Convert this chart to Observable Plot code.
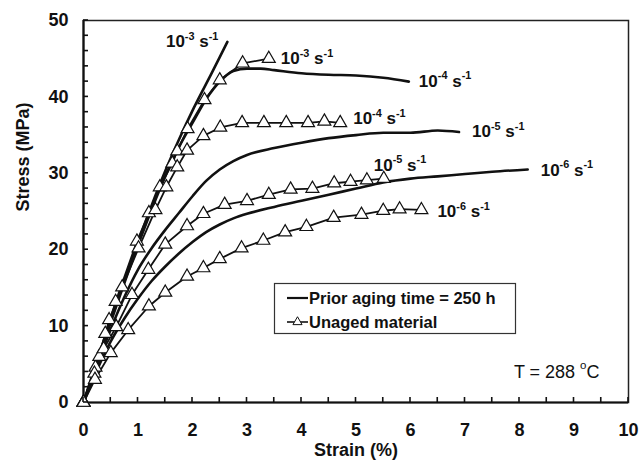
<!DOCTYPE html>
<html><head><meta charset="utf-8">
<script src="https://cdn.jsdelivr.net/npm/d3@7"></script>
<script src="https://cdn.jsdelivr.net/npm/@observablehq/plot@0.6"></script>
<style>
body{margin:0;background:#fff;}
#chart svg{font-family:"Liberation Sans",Arial,sans-serif;}
</style></head><body><div id="chart"></div>
<script>
// ---- data (strain %, stress MPa) ----
const agedE3 = [[0,0],[0.25,5.5],[0.5,10.8],[0.75,16],[1,21],[1.25,25.8],[1.5,30.3],[1.75,34.4],[2,38.2],[2.25,41.7],[2.5,45.2],[2.64,47.2]];
const agedE4 = [[0,0],[0.5,10.5],[1.0,20.6],[1.5,29.6],[1.75,33.4],[2.0,36.6],[2.25,39.7],[2.5,42.0],[2.75,43.4],[3.0,43.7],[3.25,43.7],[3.5,43.5],[4.0,43.1],[4.5,42.9],[5.0,42.8],[5.5,42.5],[5.97,42.0]];
const agedE5 = [[0,0],[0.25,5],[0.5,9.6],[0.75,13.8],[1.0,17.4],[1.25,20.2],[1.5,22.6],[1.75,24.8],[2.0,27.0],[2.25,29.0],[2.5,30.5],[2.75,31.6],[3.0,32.4],[3.5,33.3],[4.0,34.0],[4.5,34.6],[5.0,35.0],[5.5,35.3],[6.0,35.3],[6.5,35.6],[6.89,35.4]];
const agedE6 = [[0,0],[0.25,4.3],[0.5,8.0],[0.75,11.0],[1.0,13.6],[1.25,15.9],[1.5,17.8],[1.75,19.5],[2.0,21.0],[2.25,22.3],[2.5,23.3],[2.75,24.1],[3.0,24.7],[3.5,25.6],[4.0,26.4],[4.5,27.2],[5.0,28.0],[5.5,28.8],[6.0,29.3],[6.5,29.6],[7.0,29.9],[7.5,30.2],[8.15,30.5]];
const unagedE3 = [[0,0],[0.22,4.6],[0.4,9.0],[0.59,13.2],[0.98,21.1],[1.2,24.8],[1.4,28.2],[1.63,31.3],[1.72,32.9],[1.91,35.8],[2.22,39.6],[2.5,42.2],[2.92,44.4],[3.4,45.0]];
const unagedE4 = [[0,0],[0.29,6.0],[0.47,10.8],[0.71,15.1],[1.01,20.2],[1.32,25.2],[1.52,28.2],[1.72,30.8],[1.9,33.0],[2.2,34.9],[2.51,36.0],[2.91,36.6],[3.31,36.6],[3.72,36.6],[4.12,36.6],[4.42,36.8],[4.71,36.6]];
const unagedE5 = [[0,0],[0.2,3.8],[0.37,7.0],[0.6,9.9],[0.89,14.1],[1.19,17.4],[1.5,20.7],[1.9,23.1],[2.2,24.7],[2.59,25.9],[3.0,26.4],[3.4,27.2],[3.8,27.9],[4.2,28.0],[4.6,28.7],[4.9,28.9],[5.2,29.1],[5.51,29.3]];
const unagedE6 = [[0,0],[0.21,3.0],[0.5,6.5],[0.82,9.5],[1.2,12.6],[1.5,14.4],[1.9,16.5],[2.2,17.6],[2.5,18.8],[2.9,20.2],[3.3,21.2],[3.7,22.3],[4.09,23.0],[4.59,24.2],[5.1,24.6],[5.5,25.1],[5.8,25.3],[6.2,25.2]];
const rateLabels = ["10^{-3} s^{-1}","10^{-4} s^{-1}","10^{-5} s^{-1}","10^{-6} s^{-1}"];
const xLabelTicks = [0,1,2,3,4,5,6,7,8,9,10];
const yLabelTicks = [0,10,20,30,40,50];
const xMinorTicks = d3.range(0, 10.001, 0.5);
const yMinorTicks = d3.range(0, 50.001, 2);
const legendLabels = ["Prior aging time = 250 h", "Unaged material"];

// ---- build tables ----
const toRows = (arr, rate) => arr.map(([x, y]) => ({x, y, rate}));
const aged = [agedE3, agedE4, agedE5, agedE6];
const unaged = [unagedE3, unagedE4, unagedE5, unagedE6];
const agedRows = aged.flatMap((a, i) => toRows(a, rateLabels[i]));
const unagedRows = unaged.flatMap((a, i) => toRows(a, rateLabels[i]));

// label offsets (styling) relative to the end of each curve
const agedOff = [{dx:-9,dy:0,anchor:"end"},{dx:10,dy:0,anchor:"start"},{dx:13,dy:0,anchor:"start"},{dx:13,dy:1,anchor:"start"}];
const unagedOff = [{dx:12,dy:0,anchor:"start"},{dx:13,dy:-4,anchor:"start"},{dx:-10,dy:-13,anchor:"start"},{dx:16,dy:2,anchor:"start"}];

const labelMarks = [];
[[aged, agedOff], [unaged, unagedOff]].forEach(([group, off]) => {
  group.forEach((a, i) => {
    const last = a[a.length - 1];
    labelMarks.push(Plot.text([{x: last[0], y: last[1], t: rateLabels[i]}], {x: "x", y: "y", text: "t", dx: off[i].dx, dy: off[i].dy, textAnchor: off[i].anchor, fontSize: 17, fontWeight: "bold", fill: "#111"}));
  });
});

const chart = Plot.plot({
  width: 640, height: 469,
  marginLeft: 83, marginRight: 12, marginTop: 20, marginBottom: 67,
  x: {domain: [0, 10]},
  y: {domain: [0, 50]},
  style: {fontFamily: "'Liberation Sans', Arial, sans-serif", fontSize: "18px", fontWeight: "bold", color: "#111", background: "#fff", overflow: "visible"},
  marks: [
    Plot.frame({stroke: "#222", strokeWidth: 1.5}),
    Plot.axisX({ticks: xLabelTicks, tickSize: 0, tickPadding: 21, label: null, tickFormat: d => String(d)}),
    Plot.axisY({ticks: yLabelTicks, tickSize: 0, tickPadding: 15, label: null}),
    Plot.ruleX([0], {stroke: "#111", strokeWidth: 2.2}),
    Plot.ruleY([0], {stroke: "#111", strokeWidth: 2.2}),
    Plot.line(agedRows, {x: "x", y: "y", z: "rate", curve: "monotone-x", stroke: "#111", strokeWidth: 2.6}),
    Plot.line(unagedRows, {x: "x", y: "y", z: "rate", stroke: "#111", strokeWidth: 1.8}),
    Plot.dot(unagedRows, {x: "x", y: "y", symbol: "triangle", r: 4.8, fill: "white", stroke: "#111", strokeWidth: 1.2}),
    ...labelMarks,
    Plot.text(["T = 288 ^{o}C"], {text: d => d, frameAnchor: "bottom-right", dx: -29, dy: -25, textAnchor: "end", fontSize: 18, fontWeight: "normal", fill: "#111"}),
    Plot.text(["Stress (MPa)"], {text: d => d, frameAnchor: "left", rotate: -90, dx: -60, fontSize: 18, fontWeight: "bold", fill: "#111"}),
    Plot.text(["Strain (%)"], {text: d => d, frameAnchor: "bottom", dy: 53, fontSize: 18, fontWeight: "bold", fill: "#111"})
  ]
});
document.getElementById("chart").appendChild(chart);

// superscripts: rewrite "^{...}" parts as raised tspans
chart.querySelectorAll("text").forEach(t => {
  const s = t.textContent;
  if (!s.includes("^{")) return;
  t.textContent = "";
  const parts = s.split(/(\^\{[^}]*\})/).filter(p => p.length);
  let up = false;
  parts.forEach(p => {
    const ts = document.createElementNS("http://www.w3.org/2000/svg", "tspan");
    if (p.startsWith("^{")) {
      ts.textContent = p.slice(2, -1);
      ts.setAttribute("font-size", "0.64em");
      ts.setAttribute("dy", "-0.7em");
      up = true;
    } else {
      ts.textContent = p;
      if (up) { ts.setAttribute("dy", "0.448em"); up = false; }
    }
    t.appendChild(ts);
  });
});

const svg = d3.select(chart);
// inward minor ticks, positioned through Plot's own scales
const sx = chart.scale("x"), sy = chart.scale("y");
const x0 = sx.apply(0), y0 = sy.apply(0), tk = 5;
const tg = svg.append("g").attr("stroke", "#111").attr("stroke-width", 1.6);
xMinorTicks.forEach(v => {
  const px = sx.apply(v);
  tg.append("line").attr("x1", px).attr("x2", px).attr("y1", y0).attr("y2", y0 - tk);
});
yMinorTicks.forEach(v => {
  const py = sy.apply(v);
  tg.append("line").attr("x1", x0).attr("x2", x0 + tk).attr("y1", py).attr("y2", py);
});

// legend
const lg = svg.append("g").attr("font-size", 16.5).attr("font-weight", "bold").attr("text-anchor", "start");
lg.append("rect").attr("x", 274.5).attr("y", 283.5).attr("width", 241).attr("height", 50).attr("fill", "white").attr("stroke", "#333").attr("stroke-width", 1.2);
lg.append("line").attr("x1", 287).attr("x2", 308).attr("y1", 298).attr("y2", 298).attr("stroke", "#111").attr("stroke-width", 2.2);
lg.append("line").attr("x1", 287).attr("x2", 308).attr("y1", 322).attr("y2", 322).attr("stroke", "#111").attr("stroke-width", 1.6);
lg.append("path").attr("d", d3.symbol(d3.symbolTriangle, 36)()).attr("transform", "translate(297.5,322)").attr("fill", "white").attr("stroke", "#111").attr("stroke-width", 1);
legendLabels.forEach((l, i) => {
  lg.append("text").attr("x", 309).attr("y", 298 + i * 24).attr("dy", "0.36em").attr("fill", "#111").text(l);
});
</script></body></html>
